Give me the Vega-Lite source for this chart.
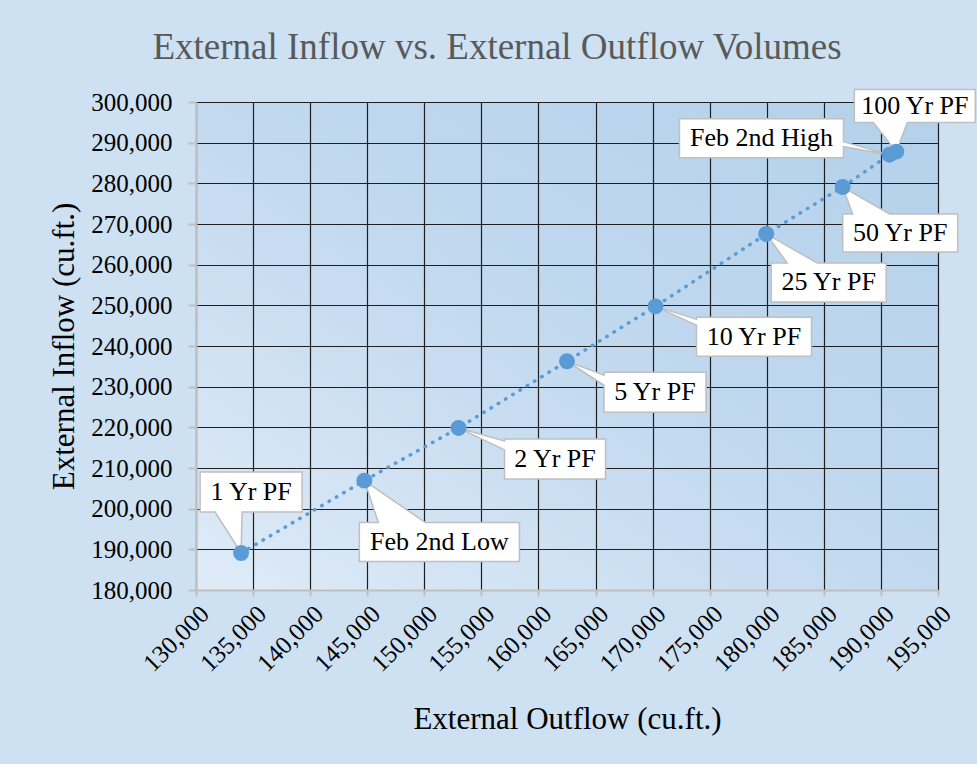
{
  "$schema": "https://vega.github.io/schema/vega-lite/v6.json",
  "width": 742,
  "height": 488,
  "autosize": {"type": "none"},
  "padding": {"left": 196, "top": 102, "right": 39, "bottom": 174},
  "background": "#cde1f3",
  "title": {
    "text": "External Inflow vs. External Outflow Volumes",
    "font": "Liberation Serif",
    "fontSize": 37,
    "fontWeight": "normal",
    "color": "#595959",
    "anchor": "middle",
    "frame": "group",
    "dx": -70,
    "dy": 39,
    "baseline": "alphabetic",
    "offset": 30
  },
  "config": {
    "view": {
      "stroke": null,
      "fill": {
        "gradient": "linear",
        "x1": 0, "y1": 1, "x2": 1, "y2": 0,
        "stops": [
          {"offset": 0, "color": "#dfebf7"},
          {"offset": 0.5, "color": "#c2d9ef"},
          {"offset": 1, "color": "#b3d1eb"}
        ]
      }
    },
    "axis": {
      "labelFont": "Liberation Serif",
      "labelFontSize": 25,
      "labelColor": "#000000",
      "titleFont": "Liberation Serif",
      "titleFontSize": 31,
      "titleFontWeight": "normal",
      "titleColor": "#000000",
      "domainColor": "#bfbfbf",
      "domainWidth": 2,
      "tickColor": "#bfbfbf",
      "tickWidth": 2,
      "gridColor": "#1f1f1f",
      "gridWidth": 1.2,
      "gridOpacity": 1,
      "labelOverlap": false,
      "labelFlush": false
    }
  },
  "data": {
    "values": [
      {"label": "1 Yr PF", "outflow": 133950, "inflow": 189100},
      {"label": "Feb 2nd Low", "outflow": 144750, "inflow": 206900},
      {"label": "2 Yr PF", "outflow": 153000, "inflow": 219850},
      {"label": "5 Yr PF", "outflow": 162500, "inflow": 236250},
      {"label": "10 Yr PF", "outflow": 170250, "inflow": 249750},
      {"label": "25 Yr PF", "outflow": 179950, "inflow": 267550},
      {"label": "50 Yr PF", "outflow": 186650, "inflow": 279100},
      {"label": "Feb 2nd High", "outflow": 190750, "inflow": 287050},
      {"label": "100 Yr PF", "outflow": 191350, "inflow": 287800}
    ]
  },
  "encoding": {
    "x": {
      "field": "outflow",
      "type": "quantitative",
      "scale": {"domain": [130000, 195000], "nice": false, "zero": false},
      "axis": {
        "title": "External Outflow (cu.ft.)",
        "values": [130000, 135000, 140000, 145000, 150000, 155000, 160000, 165000, 170000, 175000, 180000, 185000, 190000, 195000],
        "format": ",d",
        "labelAngle": -45,
        "tickSize": 6,
        "labelPadding": 5,
        "titlePadding": 28
      }
    },
    "y": {
      "field": "inflow",
      "type": "quantitative",
      "scale": {"domain": [180000, 300000], "nice": false, "zero": false},
      "axis": {
        "title": "External Inflow (cu.ft.)",
        "values": [180000, 190000, 200000, 210000, 220000, 230000, 240000, 250000, 260000, 270000, 280000, 290000, 300000],
        "format": ",d",
        "tickSize": 8,
        "labelPadding": 16,
        "titlePadding": 10
      }
    }
  },
  "layer": [
    {
      "mark": {"type": "line", "color": "#5b9bd5", "strokeWidth": 3.5, "strokeDash": [0.5, 8], "strokeCap": "round"}
    },
    {
      "transform": [{"filter": "datum.label === '1 Yr PF'"}],
      "layer": [
        {"mark": {"type": "point", "shape": "M-41,-81H61V-41H1L0,0L-26,-41H-41Z", "size": 4, "filled": true, "fill": "#ffffff", "stroke": "#bfbfbf", "strokeWidth": 1.5, "opacity": 1}},
        {"mark": {"type": "text", "dx": 10, "dy": -61, "font": "Liberation Serif", "fontSize": 26, "color": "#000000", "align": "center", "baseline": "middle"}, "encoding": {"text": {"field": "label"}}}
      ]
    },
    {
      "transform": [{"filter": "datum.label === 'Feb 2nd Low'"}],
      "layer": [
        {"mark": {"type": "point", "shape": "M-5,42H14L0,0L61,42H155V81H-5Z", "size": 4, "filled": true, "fill": "#ffffff", "stroke": "#bfbfbf", "strokeWidth": 1.5, "opacity": 1}},
        {"mark": {"type": "text", "dx": 75, "dy": 61.5, "font": "Liberation Serif", "fontSize": 26, "color": "#000000", "align": "center", "baseline": "middle"}, "encoding": {"text": {"field": "label"}}}
      ]
    },
    {
      "transform": [{"filter": "datum.label === '2 Yr PF'"}],
      "layer": [
        {"mark": {"type": "point", "shape": "M46,11H147V51H46V22L0,0L46,13Z", "size": 4, "filled": true, "fill": "#ffffff", "stroke": "#bfbfbf", "strokeWidth": 1.5, "opacity": 1}},
        {"mark": {"type": "text", "dx": 96.5, "dy": 31, "font": "Liberation Serif", "fontSize": 26, "color": "#000000", "align": "center", "baseline": "middle"}, "encoding": {"text": {"field": "label"}}}
      ]
    },
    {
      "transform": [{"filter": "datum.label === '5 Yr PF'"}],
      "layer": [
        {"mark": {"type": "point", "shape": "M37,11H139V51H37V24L0,0L37,14Z", "size": 4, "filled": true, "fill": "#ffffff", "stroke": "#bfbfbf", "strokeWidth": 1.5, "opacity": 1}},
        {"mark": {"type": "text", "dx": 88, "dy": 31, "font": "Liberation Serif", "fontSize": 26, "color": "#000000", "align": "center", "baseline": "middle"}, "encoding": {"text": {"field": "label"}}}
      ]
    },
    {
      "transform": [{"filter": "datum.label === '10 Yr PF'"}],
      "layer": [
        {"mark": {"type": "point", "shape": "M41,11H156V50H41V19L0,0L41,13Z", "size": 4, "filled": true, "fill": "#ffffff", "stroke": "#bfbfbf", "strokeWidth": 1.5, "opacity": 1}},
        {"mark": {"type": "text", "dx": 98.5, "dy": 30.5, "font": "Liberation Serif", "fontSize": 26, "color": "#000000", "align": "center", "baseline": "middle"}, "encoding": {"text": {"field": "label"}}}
      ]
    },
    {
      "transform": [{"filter": "datum.label === '25 Yr PF'"}],
      "layer": [
        {"mark": {"type": "point", "shape": "M5,29H21L0,0L51,29H120V68H5Z", "size": 4, "filled": true, "fill": "#ffffff", "stroke": "#bfbfbf", "strokeWidth": 1.5, "opacity": 1}},
        {"mark": {"type": "text", "dx": 62.5, "dy": 48.5, "font": "Liberation Serif", "fontSize": 26, "color": "#000000", "align": "center", "baseline": "middle"}, "encoding": {"text": {"field": "label"}}}
      ]
    },
    {
      "transform": [{"filter": "datum.label === '50 Yr PF'"}],
      "layer": [
        {"mark": {"type": "point", "shape": "M0,27H10L0,0L47,27H115V65H0Z", "size": 4, "filled": true, "fill": "#ffffff", "stroke": "#bfbfbf", "strokeWidth": 1.5, "opacity": 1}},
        {"mark": {"type": "text", "dx": 57.5, "dy": 46, "font": "Liberation Serif", "fontSize": 26, "color": "#000000", "align": "center", "baseline": "middle"}, "encoding": {"text": {"field": "label"}}}
      ]
    },
    {
      "transform": [{"filter": "datum.label === 'Feb 2nd High'"}],
      "layer": [
        {"mark": {"type": "point", "shape": "M-210,-36H-46V-13L0,0L-46,-8V3H-210Z", "size": 4, "filled": true, "fill": "#ffffff", "stroke": "#bfbfbf", "strokeWidth": 1.5, "opacity": 1}},
        {"mark": {"type": "text", "dx": -128, "dy": -16.5, "font": "Liberation Serif", "fontSize": 26, "color": "#000000", "align": "center", "baseline": "middle"}, "encoding": {"text": {"field": "label"}}}
      ]
    },
    {
      "transform": [{"filter": "datum.label === '100 Yr PF'"}],
      "layer": [
        {"mark": {"type": "point", "shape": "M-42,-62H79V-29H11L0,0L-23,-29H-42Z", "size": 4, "filled": true, "fill": "#ffffff", "stroke": "#bfbfbf", "strokeWidth": 1.5, "opacity": 1}},
        {"mark": {"type": "text", "dx": 18.5, "dy": -45.5, "font": "Liberation Serif", "fontSize": 26, "color": "#000000", "align": "center", "baseline": "middle"}, "encoding": {"text": {"field": "label"}}}
      ]
    },
    {
      "mark": {"type": "circle", "size": 254, "color": "#5b9bd5", "opacity": 1}
    }
  ]
}
